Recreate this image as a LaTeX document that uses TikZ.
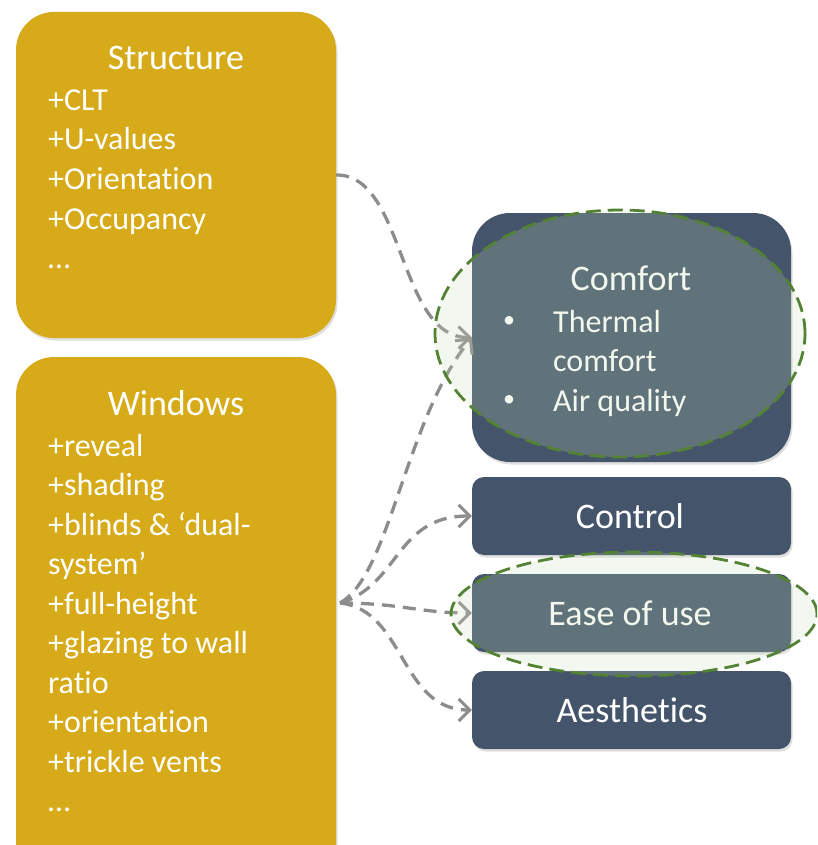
\documentclass[tikz,border=0pt]{standalone}
\usepackage{fontspec}
\setmainfont{Carlito}[Ligatures=NoCommon]
\usetikzlibrary{arrows.meta, positioning, shadows, shapes.geometric}
\definecolor{GoldColor}{RGB}{214,170,24}
\definecolor{SlateColor}{RGB}{68,84,106}
\definecolor{LinkColor}{RGB}{140,140,140}
\definecolor{LeafColor}{RGB}{84,130,53}
\definecolor{MintColor}{RGB}{198,224,180}

\begin{document}
\begin{tikzpicture}[x=1pt, y=-1pt,
    goldbox/.style={fill=GoldColor, rounded corners=38pt, minimum width=320pt, inner sep=0pt,
        drop shadow={shadow xshift=1.5pt, shadow yshift=-2.5pt, opacity=0.25}},
    slatebox/.style={fill=SlateColor, minimum width=319pt, inner sep=0pt,
        drop shadow={shadow xshift=1.5pt, shadow yshift=-2.5pt, opacity=0.25}},
    title/.style={text=white, font=\fontsize{36}{43}\selectfont, inner sep=0pt, anchor=base},
    item/.style={text=white, font=\fontsize{32}{39}\selectfont, inner sep=0pt, anchor=base west},
    dot/.style={text=white, font=\fontsize{24}{30}\selectfont, inner sep=0pt},
    link/.style={draw=LinkColor, line width=3.3pt, dash pattern=on 13pt off 8pt, ->},
    zone/.style={ellipse, draw=LeafColor, line width=2.8pt, dash pattern=on 15pt off 7pt,
        fill=MintColor, fill opacity=0.22, inner sep=0pt},
    >={Straight Barb[length=11pt, width=22pt, line width=3pt]}]
    \useasboundingbox (0,0) rectangle (817,845);
    \clip (0,0) rectangle (817,845);
    % Left boxes
    \node[goldbox, minimum height=326pt] (structure) at (176,175) {};
    \node[goldbox, minimum height=528pt] (windows) at (176,621) {};
    % Right boxes
    \node[slatebox, rounded corners=38pt, minimum height=249pt] (comfort) at (631.5,337.5) {};
    \node[slatebox, rounded corners=12pt, minimum height=78pt] (control) at (631.5,516) {};
    \node[slatebox, rounded corners=12pt, minimum height=78pt] (ease) at (631.5,613) {};
    \node[slatebox, rounded corners=12pt, minimum height=78pt] (aesth) at (631.5,710) {};
    % Structure text
    \node[title] (stitle) at (176,69.5) {Structure};
    \foreach \t [count=\i] in {+CLT, +U-values, +Orientation, +Occupancy, …}
        \node[item] (s\i) at (48, 71+39.5*\i) {\t};
    % Windows text
    \node[title] (wtitle) at (176,415.5) {Windows};
    \foreach \t [count=\i] in {+reveal, +shading, +blinds \& ‘dual-, system’, +full-height,
            +glazing to wall, ratio, +orientation, +trickle vents, …}
        \node[item] (w\i) at (48, 416.8+39.5*\i) {\t};
    % Comfort text
    \node[title] (ctitle) at (631,290.5) {Comfort};
    \node[dot] (cb1) at (509,322) {•};
    \node[item] (c1) at (553,332.3) {Thermal};
    \node[item] (c2) at (553,371.8) {comfort};
    \node[dot] (cb2) at (509,401) {•};
    \node[item] (c3) at (553,411.3) {Air quality};
    % Other labels
    \node[title] (ltitle) at (630,528.5) {Control};
    \node[title] (etitle) at (630,625.5) {Ease of use};
    \node[title] (atitle) at (632,722.5) {Aesthetics};
    % Links
    \coordinate (fan) at (340,603);
    \draw[link] (structure.east) .. controls (405,174) and (398,338) .. (comfort.west);
    \draw[link] (fan) .. controls (390,575) and (405,420) .. (comfort.west);
    \draw[link] (fan) .. controls (400,585) and (395,516) .. (control.west);
    \draw[link] (fan) .. controls (400,603) and (420,613) .. (ease.west);
    \draw[link] (fan) .. controls (405,610) and (400,710) .. (aesth.west);
    % Highlight zones
    \node[zone, minimum width=370pt, minimum height=247pt] (comfortzone) at (620,333.5) {};
    \node[zone, minimum width=366pt, minimum height=124pt] (easezone) at (634,614) {};
\end{tikzpicture}
\end{document}
